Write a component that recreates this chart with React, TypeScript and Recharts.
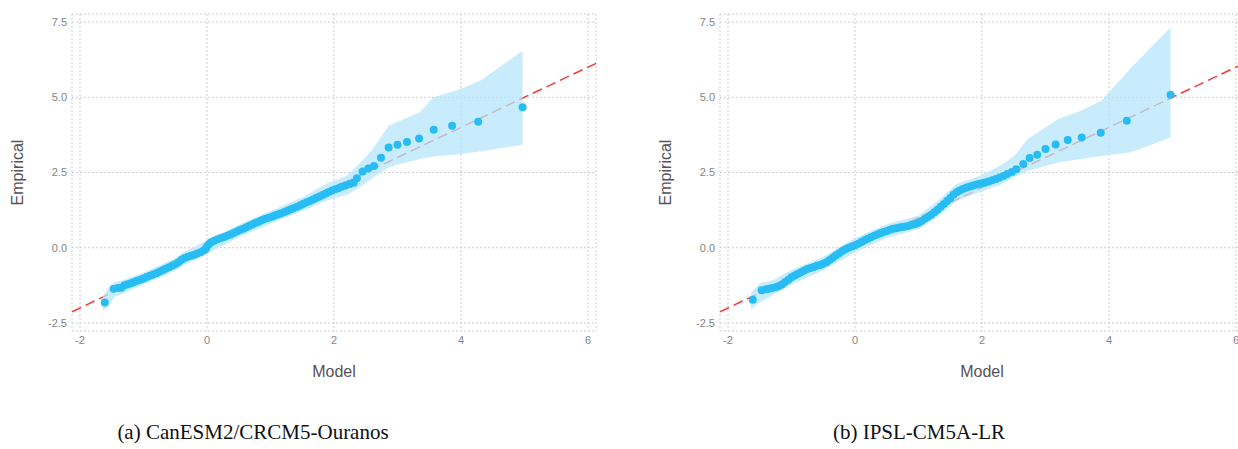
import {
  ComposedChart,
  Area,
  Line,
  Scatter,
  XAxis,
  YAxis,
  CartesianGrid,
} from "recharts";

// axis setup shared by both panels
const xTicks = [-2, 0, 2, 4, 6];
const yTicks = [-2.5, 0, 2.5, 5, 7.5];
const xDomain = [-2.126, 6.126];
const yDomain = [-2.766, 7.766];

// 1:1 reference line, spans the whole x range
const refLineX = [-2.126, 6.126];
const refLineY = [-2.126, 6.126];

// CanESM2/CRCM5-Ouranos quantiles
const canesmModel = [
  -1.61, -1.47, -1.4, -1.35, -1.3, -1.25, -1.2, -1.15, -1.1, -1.05, -1.0, -0.95, -0.9, -0.85,
  -0.8, -0.75, -0.7, -0.65, -0.6, -0.55, -0.5, -0.45, -0.4, -0.35, -0.3, -0.25, -0.2, -0.15,
  -0.1, -0.05, -0.02, 0.0, 0.03, 0.07, 0.12, 0.17, 0.22, 0.27, 0.32, 0.37, 0.42, 0.47, 0.52,
  0.57, 0.62, 0.67, 0.72, 0.77, 0.82, 0.87, 0.92, 0.97, 1.02, 1.07, 1.12, 1.17, 1.22, 1.27,
  1.32, 1.37, 1.42, 1.47, 1.52, 1.57, 1.62, 1.67, 1.72, 1.77, 1.82, 1.87, 1.92, 1.97, 2.02,
  2.07, 2.12, 2.18, 2.25, 2.31, 2.36, 2.45, 2.54, 2.63, 2.74, 2.86, 3.0, 3.15, 3.34, 3.57,
  3.86, 4.27, 4.97,
];
const canesmEmpirical = [
  -1.82, -1.36, -1.34, -1.33, -1.25, -1.21, -1.18, -1.14, -1.1, -1.06, -1.02, -0.97, -0.93,
  -0.89, -0.85, -0.8, -0.75, -0.7, -0.65, -0.6, -0.55, -0.48, -0.4, -0.34, -0.3, -0.27, -0.23,
  -0.19, -0.15, -0.09, -0.03, 0.04, 0.12, 0.19, 0.24, 0.28, 0.32, 0.36, 0.4, 0.44, 0.49, 0.54,
  0.59, 0.63, 0.68, 0.73, 0.78, 0.83, 0.87, 0.92, 0.96, 1.0, 1.03, 1.07, 1.11, 1.15, 1.19,
  1.23, 1.28, 1.32, 1.36, 1.41, 1.46, 1.51, 1.55, 1.6, 1.65, 1.7, 1.75, 1.8, 1.85, 1.9, 1.94,
  1.98, 2.03, 2.07, 2.12, 2.16, 2.31, 2.53, 2.63, 2.72, 2.99, 3.33, 3.42, 3.51, 3.63, 3.92,
  4.05, 4.19, 4.67,
];
const canesmBandX = [
  -1.64, -1.55, -1.45, -1.35, -1.2, -1.0, -0.5, -0.4, 0.0, 0.5, 1.0, 1.5, 1.9, 2.2, 2.4, 2.6,
  2.86, 3.04, 3.35, 3.56, 3.98, 4.3, 4.97,
];
const canesmBandLow = [
  -2.1, -1.95, -1.62, -1.55, -1.4, -1.22, -0.75, -0.62, -0.2, 0.35, 0.8, 1.22, 1.58, 1.75,
  2.0, 2.3, 2.67, 2.78, 2.95, 3.03, 3.11, 3.2, 3.42,
];
const canesmBandHigh = [
  -1.6, -1.35, -1.12, -1.1, -0.98, -0.82, -0.35, -0.18, 0.25, 0.76, 1.22, 1.68, 2.15, 2.38,
  2.8, 3.25, 4.05, 4.22, 4.5, 4.99, 5.27, 5.55, 6.54,
];

// IPSL-CM5A-LR quantiles
const ipslModel = [
  -1.61, -1.47, -1.4, -1.35, -1.3, -1.25, -1.2, -1.15, -1.1, -1.05, -1.0, -0.95, -0.9, -0.85,
  -0.8, -0.75, -0.7, -0.65, -0.6, -0.55, -0.5, -0.45, -0.4, -0.35, -0.3, -0.25, -0.2, -0.15,
  -0.1, -0.05, 0.0, 0.05, 0.1, 0.15, 0.2, 0.25, 0.3, 0.35, 0.4, 0.45, 0.5, 0.55, 0.6, 0.65,
  0.7, 0.75, 0.8, 0.85, 0.9, 0.95, 1.0, 1.05, 1.1, 1.15, 1.2, 1.25, 1.3, 1.35, 1.4, 1.45, 1.5,
  1.55, 1.6, 1.65, 1.7, 1.75, 1.8, 1.85, 1.9, 1.95, 2.0, 2.05, 2.1, 2.16, 2.22, 2.28, 2.34,
  2.4, 2.47, 2.54, 2.65, 2.75, 2.87, 3.0, 3.16, 3.35, 3.57, 3.87, 4.28, 4.97,
];
const ipslEmpirical = [
  -1.73, -1.41, -1.38, -1.36, -1.34, -1.31, -1.27, -1.22, -1.14, -1.06, -0.98, -0.92, -0.86,
  -0.81, -0.76, -0.71, -0.67, -0.64, -0.6, -0.57, -0.53, -0.48, -0.41, -0.33, -0.25, -0.18,
  -0.11, -0.05, 0.0, 0.04, 0.08, 0.13, 0.19, 0.25, 0.3, 0.35, 0.4, 0.44, 0.48, 0.52, 0.56,
  0.6, 0.63, 0.65, 0.67, 0.69, 0.71, 0.73, 0.76, 0.79, 0.83, 0.89, 0.96, 1.03, 1.1, 1.18,
  1.26, 1.36, 1.45, 1.55, 1.65, 1.76, 1.84, 1.9, 1.95, 1.99, 2.03, 2.06, 2.09, 2.12, 2.14,
  2.17, 2.2, 2.24, 2.28, 2.33, 2.38, 2.45, 2.52, 2.61, 2.78, 2.98, 3.09, 3.28, 3.43, 3.58,
  3.66, 3.82, 4.22, 5.08,
];
const ipslBandX = [
  -1.64, -1.5, -1.3, -1.0, -0.5, 0.0, 0.5, 1.0, 1.3, 1.6, 2.0, 2.3, 2.51, 2.72, 3.2, 3.56,
  3.88, 4.35, 4.97,
];
const ipslBandLow = [
  -2.05, -1.82, -1.58, -1.22, -0.76, -0.15, 0.32, 0.62, 1.02, 1.55, 1.88, 2.1, 2.35, 2.55,
  2.83, 2.95, 3.05, 3.17, 3.66,
];
const ipslBandHigh = [
  -1.5, -1.18, -1.08, -0.74, -0.3, 0.32, 0.78, 1.07, 1.55, 2.12, 2.42, 2.75, 3.06, 3.61, 4.28,
  4.55, 4.88, 5.99, 7.32,
];

const sans = "'Liberation Sans', Arial, sans-serif";
const tickStyle = { fontSize: 11, fill: "#858585", fontFamily: sans };
const titleStyle = { fontSize: 16, fill: "#57525c", fontFamily: sans };

interface PanelProps {
  model: number[];
  empirical: number[];
  bandX: number[];
  bandLow: number[];
  bandHigh: number[];
}

function QQPanel({ model, empirical, bandX, bandLow, bandHigh }: PanelProps) {
  const band = bandX.map((x, i) => ({ x, band: [bandLow[i], bandHigh[i]] }));
  const points = model.map((x, i) => ({ x, y: empirical[i] }));
  const refLine = refLineX.map((x, i) => ({ x, y: refLineY[i] }));

  return (
    <ComposedChart
      width={620}
      height={390}
      data={band}
      margin={{ top: 14, right: 24, bottom: 0, left: 12 }}
    >
      <CartesianGrid stroke="#cdcdd4" strokeDasharray="2 2" />
      <XAxis
        type="number"
        dataKey="x"
        domain={xDomain}
        ticks={xTicks}
        allowDataOverflow
        axisLine={false}
        tickLine={false}
        tickSize={3}
        tickMargin={2}
        height={59}
        tick={tickStyle}
        label={{ value: "Model", position: "insideBottom", offset: 13, style: titleStyle }}
      />
      <YAxis
        type="number"
        domain={yDomain}
        ticks={yTicks}
        allowDataOverflow
        axisLine={false}
        tickLine={false}
        tickSize={3}
        tickMargin={2}
        width={60}
        tick={tickStyle}
        tickFormatter={(v: number) => v.toFixed(1)}
        label={{
          value: "Empirical",
          angle: -90,
          position: "insideLeft",
          offset: 5,
          style: { ...titleStyle, textAnchor: "middle" },
        }}
      />
      <Line
        data={refLine}
        dataKey="y"
        type="linear"
        stroke="#f23a3a"
        strokeWidth={1.5}
        strokeDasharray="10 5"
        dot={false}
        activeDot={false}
        isAnimationActive={false}
        zIndex={50}
      />
      <Area
        dataKey="band"
        type="linear"
        stroke="none"
        fill="#b5e5fa"
        fillOpacity={0.75}
        isAnimationActive={false}
        zIndex={100}
      />
      <Scatter
        data={points}
        dataKey="y"
        fill="#27bdf4"
        isAnimationActive={false}
        shape={(p: any) => <circle cx={p.cx} cy={p.cy} r={4} fill="#27bdf4" />}
      />
    </ComposedChart>
  );
}

const captionStyle: React.CSSProperties = {
  position: "absolute",
  top: 422,
  fontFamily: "'Liberation Serif', 'DejaVu Serif', serif",
  fontSize: 21,
  lineHeight: "21px",
  color: "#111",
  whiteSpace: "nowrap",
  transform: "translateX(-50%)",
};

export default function App() {
  return (
    <div
      style={{
        position: "absolute",
        left: 0,
        top: 0,
        width: 1238,
        height: 449,
        overflow: "hidden",
        background: "#fff",
      }}
    >
      <div style={{ position: "absolute", left: 0, top: 0 }}>
        <QQPanel
          model={canesmModel}
          empirical={canesmEmpirical}
          bandX={canesmBandX}
          bandLow={canesmBandLow}
          bandHigh={canesmBandHigh}
        />
      </div>
      <div style={{ position: "absolute", left: 648, top: 0 }}>
        <QQPanel
          model={ipslModel}
          empirical={ipslEmpirical}
          bandX={ipslBandX}
          bandLow={ipslBandLow}
          bandHigh={ipslBandHigh}
        />
      </div>
      <div style={{ ...captionStyle, left: 253 }}>(a) CanESM2/CRCM5-Ouranos</div>
      <div style={{ ...captionStyle, left: 919 }}>(b) IPSL-CM5A-LR</div>
    </div>
  );
}
